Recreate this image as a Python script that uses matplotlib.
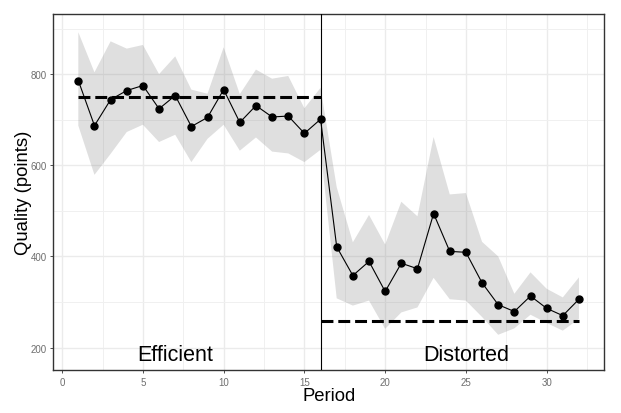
import numpy as np
import matplotlib
matplotlib.use("Agg")
import matplotlib.pyplot as plt
from matplotlib.ticker import MultipleLocator

# Datos
periodo = np.arange(1, 33)
calidad = [786, 687, 744, 764, 775, 724, 753, 685, 705, 766, 694, 731, 706, 708, 670, 701,
           421, 358, 389, 323, 385, 373, 494, 411, 409, 342, 294, 279, 313, 286, 270, 306]
banda_sup = [892, 804, 872, 856, 864, 800, 839, 766, 757, 859, 756, 810, 790, 796, 725, 770,
             552, 431, 491, 426, 520, 488, 662, 536, 539, 432, 400, 318, 365, 329, 310, 354]
banda_inf = [687, 579, 625, 673, 689, 651, 667, 607, 658, 689, 632, 661, 630, 626, 607, 634,
             308, 292, 303, 241, 277, 288, 353, 306, 303, 267, 228, 242, 272, 254, 237, 263]

eficiente = 750
distorsionado = 258
cambio = 16

plt.rcParams['font.family'] = ['Liberation Sans', 'DejaVu Sans']

fig = plt.figure(figsize=(6.21, 4.14), dpi=100)
ax = fig.add_axes([0.0858, 0.1031, 0.8868, 0.8607])

# Banda de confianza
ax.fill_between(periodo, banda_inf, banda_sup, facecolor='grey', alpha=0.25, lw=0, zorder=2)

# Línea y puntos
ax.plot(periodo, calidad, color='black', lw=0.8, zorder=4)
ax.plot(periodo, calidad, 'o', color='black', markersize=5, zorder=5)

# Referencias
ax.plot([1, cambio], [eficiente, eficiente], color='black', lw=2.2, dashes=(3.9, 1.6), zorder=3)
ax.plot([cambio, 32], [distorsionado, distorsionado], color='black', lw=2.2, dashes=(3.9, 1.6), zorder=3)
ax.axvline(cambio, color='black', lw=0.8, zorder=3)

ax.text(7, 185, 'Efficient', ha='center', va='center', fontsize=15.5)
ax.text(25, 185, 'Distorted', ha='center', va='center', fontsize=15.5)

ax.set_xlim(-0.55, 33.55)
ax.set_ylim(150, 932)
ax.xaxis.set_major_locator(MultipleLocator(5))
ax.xaxis.set_minor_locator(MultipleLocator(2.5))
ax.yaxis.set_major_locator(MultipleLocator(200))
ax.yaxis.set_minor_locator(MultipleLocator(100))

ax.grid(which='major', color='#EBEBEB', lw=1.0, zorder=0)
ax.grid(which='minor', color='#F0F0F0', lw=0.7, zorder=0)
ax.set_axisbelow(True)

for s in ax.spines.values():
    s.set_color('#333333')
    s.set_linewidth(1.0)

ax.tick_params(which='major', length=2.5, width=0.6, color='#333333',
               labelsize=7, labelcolor='#6E6E6E', pad=2)
ax.tick_params(which='minor', length=0)

ax.set_xlabel('Period', fontsize=13.3, labelpad=0)
ax.set_ylabel('Quality (points)', fontsize=13.3)
ax.yaxis.set_label_coords(-0.038, 0.5)

fig.savefig('out.png', dpi=100)
